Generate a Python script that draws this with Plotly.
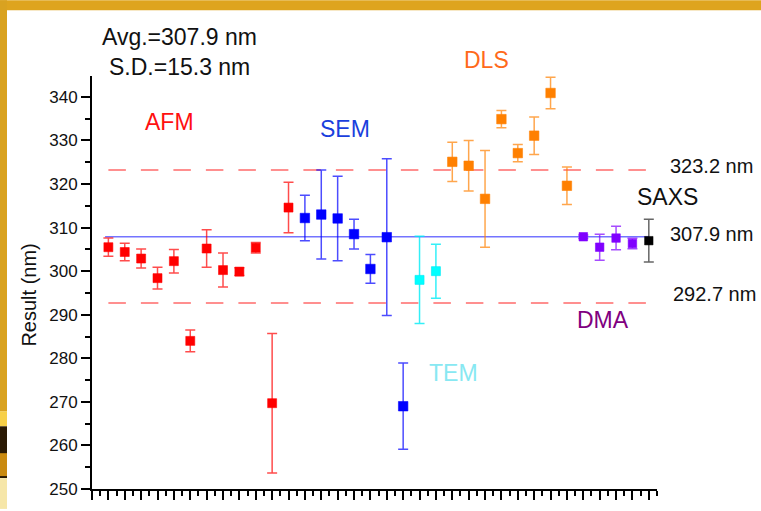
import plotly.graph_objects as go

# ---- data ----
afm_x = list(range(1, 13))
afm_y = [305.5, 304.4, 302.9, 298.4, 302.3, 284.0, 305.2, 300.25, 299.9, 305.4, 269.7, 314.6]
afm_e = [2.1, 2.0, 2.2, 2.5, 2.7, 2.5, 4.3, 3.9, 0.9, 1.2, 16.0, 5.8]

sem_x = list(range(13, 20))
sem_y = [312.2, 313.0, 312.1, 308.5, 300.5, 307.8, 269.0]
sem_e = [5.2, 10.2, 9.7, 3.4, 3.3, 18.0, 9.9]

tem_x = [20, 21]
tem_y = [298.0, 300.0]
tem_e = [10.0, 6.2]

dls_x = list(range(22, 30))
dls_y = [325.1, 324.2, 316.6, 334.9, 327.1, 331.1, 340.9, 319.6]
dls_e = [4.5, 5.8, 11.1, 2.0, 2.0, 4.3, 3.6, 4.3]

dma_x = [30, 31, 32, 33]
dma_y = [307.9, 305.5, 307.6, 306.35]
dma_e = [0.4, 3.0, 2.7, 1.2]

saxs_x = [34]
saxs_y = [307.0]
saxs_e = [4.9]

avg = 307.9
sd = 15.3
upper = 323.2
lower = 292.7
line_x = [1, 34]

FONT = "Liberation Sans, Arial, sans-serif"

fig = go.Figure()

# reference lines
fig.add_trace(go.Scatter(x=line_x, y=[upper, upper], mode="lines",
                         line=dict(color="rgba(255,80,80,0.85)", width=1.5, dash="17.5px,15px"),
                         hoverinfo="skip", showlegend=False))
fig.add_trace(go.Scatter(x=line_x, y=[lower, lower], mode="lines",
                         line=dict(color="rgba(255,80,80,0.85)", width=1.5, dash="17.5px,15px"),
                         hoverinfo="skip", showlegend=False))
fig.add_trace(go.Scatter(x=[0.8, 34], y=[avg, avg], mode="lines",
                         line=dict(color="rgba(70,70,255,0.75)", width=1.6),
                         hoverinfo="skip", showlegend=False))

groups = [
    (afm_x, afm_y, afm_e, "#FF0000", "rgba(255,0,0,0.7)", 9),
    (sem_x, sem_y, sem_e, "#0000FF", "rgba(0,0,255,0.7)", 9.5),
    (tem_x, tem_y, tem_e, "#00FFFF", "rgba(0,235,245,0.8)", 9),
    (dls_x, dls_y, dls_e, "#FF8000", "rgba(255,128,0,0.7)", 9.5),
    (dma_x, dma_y, dma_e, "#8000FF", "rgba(128,0,255,0.7)", 8.5),
    (saxs_x, saxs_y, saxs_e, "#000000", "rgba(0,0,0,0.6)", 8.5),
]
for xs, ys, es, col, ecol, sz in groups:
    fig.add_trace(go.Scatter(
        x=xs, y=ys, mode="markers",
        marker=dict(symbol="square", size=sz, color=col,
                    line=dict(width=0.8, color=ecol)),
        error_y=dict(type="data", array=es, symmetric=True, color=ecol,
                     thickness=1.5, width=5),
        showlegend=False, cliponaxis=False))

# ---- texts (paper coords) ----
def txt(x, y, s, color, size, **kw):
    fig.add_annotation(x=x, y=y, xref="paper", yref="paper", text=s,
                       showarrow=False, font=dict(family=FONT, size=size, color=color),
                       xanchor="center", yanchor="middle", **kw)

txt(0.154, 1.094, "Avg.=%.1f nm" % avg, "#111111", 23)
txt(0.154, 1.022, "S.D.=%.1f nm" % sd, "#111111", 23)
txt(0.138, 0.889, "AFM", "#FF1010", 23)
txt(0.448, 0.872, "SEM", "#1A3FDD", 23)
txt(0.699, 1.039, "DLS", "#FF6A1A", 23)
txt(0.904, 0.410, "DMA", "#800080", 23)
txt(0.639, 0.282, "TEM", "#88E8F2", 23)
txt(1.019, 0.708, "SAXS", "#111111", 23)
txt(1.096, 0.781, "%.1f nm" % upper, "#111111", 20)
txt(1.097, 0.617, "%.1f nm" % avg, "#111111", 20)
txt(1.101, 0.472, "%.1f nm" % lower, "#111111", 20)
txt(-0.112, 0.47, "Result (nm)", "#111111", 20, textangle=-90)

# ---- slide background border (gold) ----
W, H = 761, 511
L, R, T, B = 92, 104, 76, 20
pw, ph = W - L - R, H - T - B

def px2paper(px, py):
    return (px - L) / pw, (H - B - py) / ph

def rect(x0, y0, x1, y1, color):
    a = px2paper(x0, y1)
    b = px2paper(x1, y0)
    fig.add_shape(type="rect", xref="paper", yref="paper",
                  x0=a[0], y0=a[1], x1=b[0], y1=b[1],
                  fillcolor=color, line=dict(width=0), layer="below")

rect(0, 0, 761, 10, "#DEA41E")
rect(0, 0, 7, 413, "#D9A220")
rect(0, 413, 7, 428, "#F7D048")
rect(0, 428, 7, 480, "#2A1A04")
rect(0, 455, 7, 478, "#C98A10")
rect(0, 480, 7, 511, "#F6E6A8")

fig.update_layout(
    width=W, height=H,
    margin=dict(l=L, r=R, t=T, b=B),
    paper_bgcolor="white", plot_bgcolor="white",
    showlegend=False,
    xaxis=dict(range=[0, 34.5], showgrid=False, zeroline=False,
               showline=True, linecolor="black", linewidth=2,
               ticks="outside", ticklen=9, tickwidth=1.5, tickcolor="black",
               tick0=0, dtick=1, showticklabels=False,
               minor=dict(ticks="outside", ticklen=5, tickwidth=1.5, tickcolor="black",
                          dtick=0.5, tick0=0, showgrid=False)),
    yaxis=dict(range=[250, 344.8], showgrid=False, zeroline=False,
               showline=True, linecolor="black", linewidth=2,
               ticks="outside", ticklen=9, tickwidth=1.5, tickcolor="black",
               tick0=250, dtick=10,
               tickfont=dict(family=FONT, size=17, color="#111111"),
               minor=dict(ticks="outside", ticklen=5, tickwidth=1.5, tickcolor="black",
                          dtick=5, tick0=250, showgrid=False)),
)

fig.write_html("out.html", config={"displayModeBar": False},
               post_script="document.body.style.margin='0';document.body.style.overflow='hidden';")
